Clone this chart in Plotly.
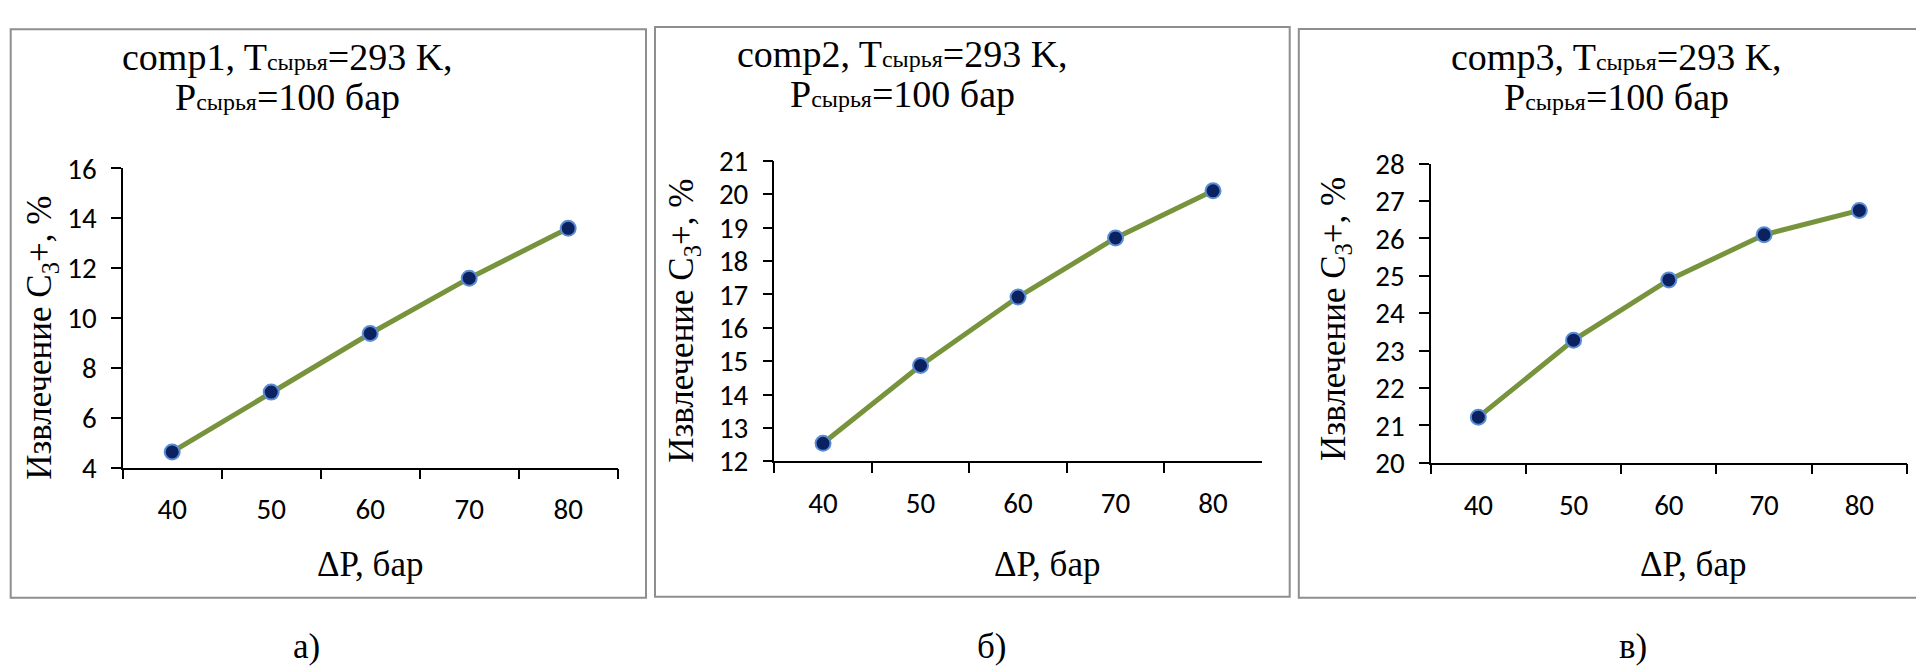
import plotly.graph_objects as go

W, H = 1916, 670

dp_labels = ["40", "50", "60", "70", "80"]
comp1 = [4.63, 7.03, 9.38, 11.6, 13.6]
comp2 = [12.54, 14.87, 16.92, 18.69, 20.1]
comp3 = [21.22, 23.28, 24.89, 26.1, 26.75]

titles = ["comp1", "comp2", "comp3"]
y_ranges = [(4, 16, 2), (12, 21, 1), (20, 28, 1)]
panel_letters = ["а)", "б)", "в)"]
x_title = "ΔP, бар"
y_title = "Извлечение C<sub>3</sub>+, %"

# plot-area pixel geometry (left, right, top, bottom)
areas = [(122.7, 617.7, 159.0, 475.2),
         (774.3, 1261.8, 150.9, 468.5),
         (1430.7, 1907.0, 154.0, 470.0)]
title_pos = [(287, 41, 84), (902, 38, 80), (1616, 41, 84)]
xtitle_pos = [(370, 578), (1047, 578), (1693, 578)]
ytitle_pos = [(42, 338), (684, 320), (1336, 318)]
letter_pos = [(306, 664), (992, 664), (1633, 664)]
boxes = [(10.7, 12, 646, 612.7), (655, 9.4, 1289.7, 611.7), (1298.8, 11.7, 1930, 612.7)]

def px(x):
    return x / W

def py(y):
    return 1 - y / H

fig = go.Figure()
series = [comp1, comp2, comp3]
serif = "Liberation Serif"
sans = "Carlito"
tickfont = dict(family=sans, size=29, color="black")

for i in range(3):
    n = i + 1
    xa = "x" if n == 1 else f"x{n}"
    ya = "y" if n == 1 else f"y{n}"
    xl, yl = f"x{n+3}", f"y{n+3}"
    fig.add_trace(go.Scatter(
        x=dp_labels, y=series[i], xaxis=xa, yaxis=ya, mode="lines+markers",
        line=dict(color="#77933C", width=5),
        marker=dict(size=15, color="#0B2160", line=dict(color="#5B8DD3", width=2)),
        cliponaxis=False, showlegend=False, hoverinfo="x+y"))
    # transparent companion trace carrying the tick-label axes
    fig.add_trace(go.Scatter(
        x=list(range(len(dp_labels))), y=series[i], xaxis=xl, yaxis=yl, mode="lines",
        line=dict(width=0), opacity=0, showlegend=False, hoverinfo="skip"))
    l, r, t, b = areas[i]
    lo, hi, dt = y_ranges[i]
    base = dict(showgrid=False, zeroline=False)
    vis = dict(showline=True, linecolor="black", linewidth=1.5, ticks="outside", ticklen=10,
               tickwidth=1.5, tickcolor="black", showticklabels=False)
    lab = dict(showline=False, ticks="", tickfont=tickfont, showticklabels=True)
    xname = "xaxis" if n == 1 else f"xaxis{n}"
    yname = "yaxis" if n == 1 else f"yaxis{n}"
    fig.update_layout(**{
        xname: dict(domain=[px(l), px(r)], anchor=ya, type="category", tickson="boundaries",
                    range=[-0.5, 4.5], **base, **vis),
        yname: dict(domain=[py(b), py(t)], anchor=xa, range=[lo, hi], dtick=dt, tick0=lo,
                    **base, **vis),
        f"xaxis{n+3}": dict(overlaying=xa, anchor="free", position=py(b + 23),
                            domain=[px(l), px(r)], type="linear",
                            range=[-0.5, 4.5], tickvals=list(range(len(dp_labels))),
                            ticktext=dp_labels, side="bottom", **base, **lab),
        f"yaxis{n+3}": dict(overlaying=ya, anchor="free", position=px(l - 26),
                            domain=[py(b), py(t)], range=[lo, hi],
                            dtick=dt, tick0=lo, side="left", **base, **lab),
    })
    # titles
    cx, y1, y2 = title_pos[i]
    fig.add_annotation(xref="paper", yref="paper", x=px(cx), y=py(y1), showarrow=False,
                       xanchor="center", yanchor="middle",
                       text=f"{titles[i]}, T<span style='font-size:24px'>сырья</span>=293 K,",
                       font=dict(family=serif, size=38, color="black"))
    fig.add_annotation(xref="paper", yref="paper", x=px(cx), y=py(y2), showarrow=False,
                       xanchor="center", yanchor="middle",
                       text="P<span style='font-size:24px'>сырья</span>=100 бар",
                       font=dict(family=serif, size=38, color="black"))
    # axis titles
    fig.add_annotation(xref="paper", yref="paper", x=px(xtitle_pos[i][0]), y=py(xtitle_pos[i][1]),
                       showarrow=False, xanchor="center", yanchor="middle", text=x_title,
                       font=dict(family=serif, size=35, color="black"))
    fig.add_annotation(xref="paper", yref="paper", x=px(ytitle_pos[i][0]), y=py(ytitle_pos[i][1]),
                       showarrow=False, xanchor="center", yanchor="middle", text=y_title,
                       textangle=-90, font=dict(family=serif, size=35, color="black"))
    fig.add_annotation(xref="paper", yref="paper", x=px(letter_pos[i][0]), y=py(letter_pos[i][1]),
                       showarrow=False, xanchor="center", yanchor="middle", text=panel_letters[i],
                       font=dict(family=serif, size=35, color="black"))
    bx0, by0, bx1, by1 = boxes[i]
    fig.add_shape(type="rect", xref="paper", yref="paper", x0=px(bx0), x1=px(bx1),
                  y0=py(by1), y1=py(by0), line=dict(color="#8E8E8E", width=2), layer="below")

fig.update_layout(width=W, height=H, margin=dict(l=0, r=0, t=0, b=0),
                  paper_bgcolor="white", plot_bgcolor="rgba(0,0,0,0)",
                  font=dict(family=serif))
fig.write_html("out.html")
